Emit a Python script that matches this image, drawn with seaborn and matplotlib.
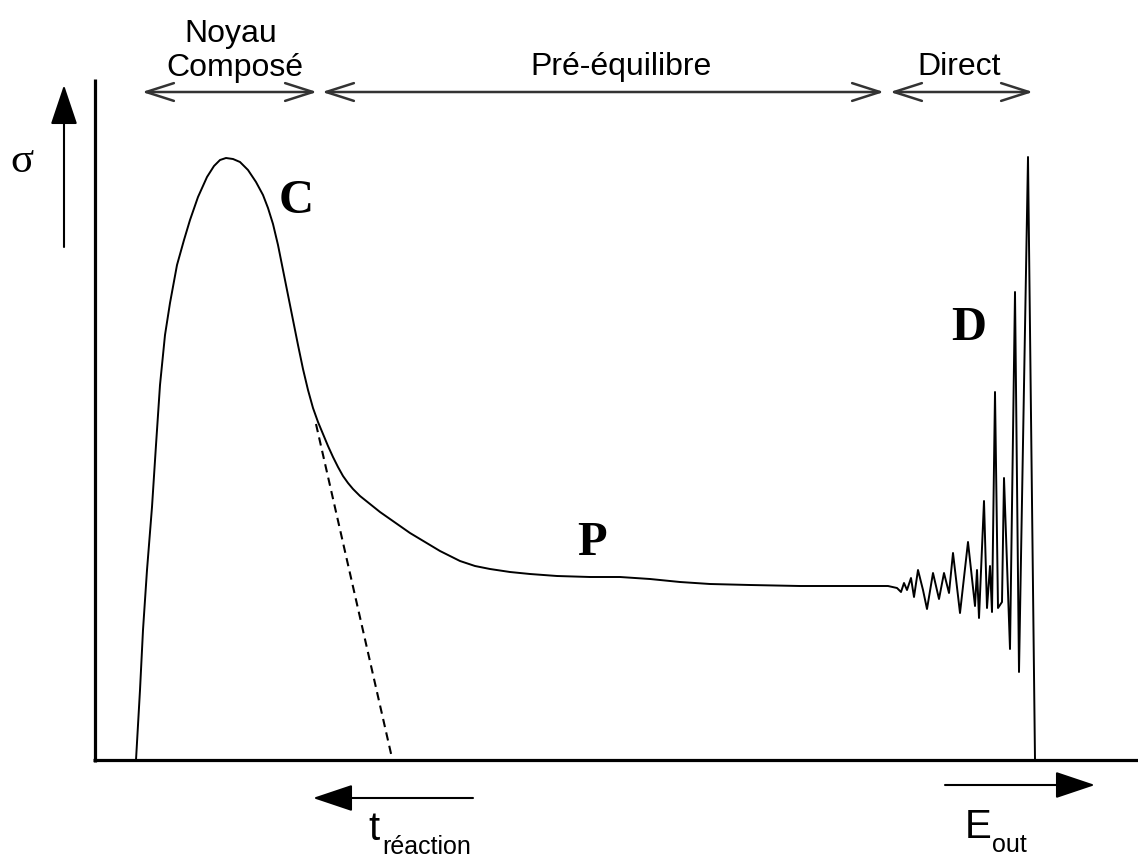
import matplotlib
matplotlib.use('Agg')
import matplotlib.pyplot as plt
import seaborn as sns
import pandas as pd

# ==========================================
# Data (picture coordinates, y grows downwards)
# ==========================================
# smooth part: compound peak C then pre-equilibrium plateau P
curve_x = [136, 140, 143, 147, 152, 156, 160, 165, 170, 177, 184, 190, 198, 207,
           214, 220, 226, 233, 240, 248, 256, 263, 268, 273, 278, 283, 288, 293,
           298, 303, 308, 313, 318, 323, 328, 333, 338, 343, 348, 353, 360, 370,
           380, 390, 400, 410, 420, 430, 440, 450, 460, 475, 490, 510, 530, 557,
           590, 620, 650, 680, 710, 750, 800, 850, 888]
curve_y = [760, 690, 630, 570, 507, 445, 385, 335, 303, 265, 240, 220, 197, 177,
           166, 160, 158, 159, 162, 170, 182, 195, 208, 224, 245, 270, 295, 320,
           345, 369, 390, 408, 422, 434, 446, 457, 467, 476, 483, 489, 496, 504,
           512, 519, 526, 533, 539, 545, 551, 556, 561, 566, 569, 572, 574, 576,
           577, 577, 579, 582, 584, 585, 586, 586, 586]

# direct reactions: noisy spikes D
spike_x = [888, 897, 901, 904, 907, 911, 914, 918, 923, 927, 933, 939, 944, 949,
           953, 960, 968, 975, 977, 979, 984, 987, 990, 992, 995, 998, 1002, 1004,
           1010, 1015, 1019, 1028, 1035]
spike_y = [586, 588, 592, 583, 590, 578, 597, 570, 590, 609, 573, 599, 573, 593,
           553, 613, 542, 606, 570, 618, 501, 608, 566, 612, 392, 608, 602, 478,
           649, 292, 672, 157, 760]

# extrapolated compound-nucleus tail (dashed)
dash_x = [316, 392]
dash_y = [424, 758]

regions = ['Noyau', 'Pré-équilibre', 'Direct']
region_start = [142, 322, 890]
region_end = [317, 884, 1033]
region_label_x = [231, 621, 959]

letters = ['C', 'P', 'D']
letter_x = [296, 592, 969]
letter_y = [213, 555, 340]

sns.set_theme(style='white')
plt.rcParams['font.family'] = ['Liberation Sans', 'DejaVu Sans']

W, H = 1138, 859
fig = plt.figure(figsize=(W / 100, H / 100), dpi=100)
ax = fig.add_axes([0, 0, 1, 1])
ax.set_xlim(0, W)
ax.set_ylim(H, 0)
ax.axis('off')

df_c = pd.DataFrame({'x': curve_x + spike_x[1:], 'y': curve_y + spike_y[1:]})
sns.lineplot(data=df_c, x='x', y='y', sort=False, estimator=None,
             color='black', lw=1.4, ax=ax)
sns.lineplot(x=dash_x, y=dash_y, sort=False, estimator=None,
             color='black', lw=1.5, linestyle=(0, (4, 2.6)), ax=ax)

# axes frame
ax.plot([95, 95], [79, 762], color='black', lw=2.3, solid_capstyle='butt')
ax.plot([93, W], [760, 760], color='black', lw=2.3, solid_capstyle='butt')

# region arrows on top
for name, x0, x1, tx in zip(regions, region_start, region_end, region_label_x):
    ax.annotate('', xy=(x1, 92), xytext=(x0, 92),
                arrowprops=dict(arrowstyle='<->,head_length=1.0,head_width=0.32',
                                color='#333333', lw=1.8, shrinkA=0, shrinkB=0,
                                mutation_scale=20))
    if name == 'Noyau':
        ax.text(tx, 42, 'Noyau', ha='center', va='baseline', fontsize=23,
                color='black')
        ax.text(tx + 4, 76, 'Composé', ha='center', va='baseline', fontsize=23,
                color='black')
    else:
        ax.text(tx, 75, name, ha='center', va='baseline', fontsize=23,
                color='black')

# sigma arrow
ax.annotate('', xy=(64, 85), xytext=(64, 247),
            arrowprops=dict(arrowstyle='-|>,head_length=1.25,head_width=0.42',
                            color='black', lw=1.5, shrinkA=0, shrinkB=0,
                            mutation_scale=20))
ax.text(22, 172, 'σ', ha='center', va='baseline', fontsize=31, color='black',
        family=['Liberation Serif', 'DejaVu Serif'])

# bottom arrows
ax.annotate('', xy=(313, 798), xytext=(473, 798),
            arrowprops=dict(arrowstyle='-|>,head_length=1.25,head_width=0.42',
                            color='black', lw=1.5, shrinkA=0, shrinkB=0,
                            mutation_scale=20))
ax.annotate('', xy=(1095, 785), xytext=(945, 785),
            arrowprops=dict(arrowstyle='-|>,head_length=1.25,head_width=0.42',
                            color='black', lw=1.5, shrinkA=0, shrinkB=0,
                            mutation_scale=20))
ax.text(368, 840, 't', ha='left', va='baseline', fontsize=29, color='black')
ax.text(382, 854, 'réaction', ha='left', va='baseline', fontsize=18,
        color='black')
ax.text(965, 838, 'E', ha='left', va='baseline', fontsize=29, color='black')
ax.text(992, 852, 'out', ha='left', va='baseline', fontsize=18, color='black')

# region letters
for lab, lx, ly in zip(letters, letter_x, letter_y):
    ax.text(lx, ly, lab, ha='center', va='baseline', fontsize=35, color='black',
            fontweight='bold', family=['Liberation Serif', 'DejaVu Serif'])

fig.savefig('out.png', dpi=100)
